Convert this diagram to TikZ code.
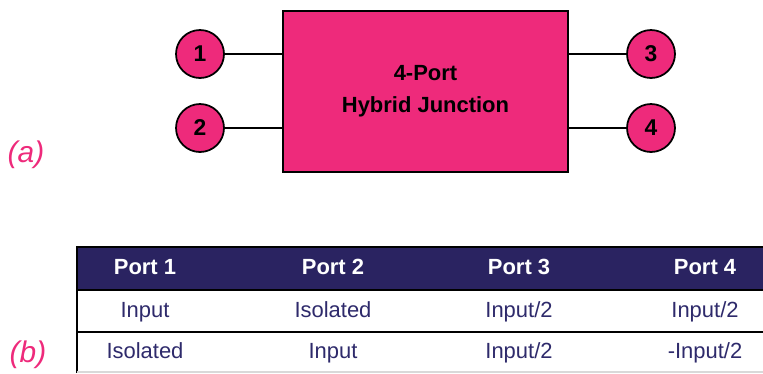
\documentclass[tikz,border=0pt]{standalone}
\usepackage{fontspec}
\setmainfont{Liberation Sans}
\usetikzlibrary{positioning}
\definecolor{hotpink}{HTML}{EE2A7B}
\definecolor{navyband}{HTML}{2A2361}
\definecolor{navytext}{HTML}{2E2A6B}

\begin{document}
\begin{tikzpicture}[x=0.02cm,y=-0.02cm,
		port/.style={circle,draw,line width=1pt,fill=hotpink,minimum size=0.96cm,inner sep=0pt,font=\bfseries\fontsize{13}{15}\selectfont},
		junction/.style={draw,line width=1.2pt,fill=hotpink,minimum width=5.7cm,minimum height=3.22cm,align=center,font=\bfseries\fontsize{12.5}{18}\selectfont},
		head/.style={text=white,text height=9pt,text depth=2pt,font=\bfseries\fontsize{12.5}{14}\selectfont},
		cell/.style={text=navytext,text height=9pt,text depth=2pt,font=\fontsize{12.5}{14}\selectfont},
		tag/.style={text=hotpink,font=\itshape\fontsize{17}{19}\selectfont},
		wire/.style={line width=0.9pt}]
		\useasboundingbox (0,0) rectangle (763,373);

		% (a) hybrid junction
		\node(hyb) [junction] at (425.5,91.5) {4-Port\\Hybrid Junction};
		\node(p1) [port] at (200,54) {1};
		\node(p2) [port] at (200,128) {2};
		\node(p3) [port] at (651,54) {3};
		\node(p4) [port] at (651,128) {4};

		\draw[wire] (p1) -- (p1 -| hyb.west);
		\draw[wire] (p2) -- (p2 -| hyb.west);
		\draw[wire] (p3) -- (p3 -| hyb.east);
		\draw[wire] (p4) -- (p4 -| hyb.east);

		\node(taga) [tag] at (26,155) {(a)};

		% (b) port table
		\fill[navyband] (77,247) rectangle (763,290);
		\draw[line width=0.6pt] (763,247) -- (77,247) -- (77,373);
		\draw[line width=1.3pt] (77,290) -- (763,290);
		\draw[line width=1.3pt] (77,332) -- (763,332);
		\draw[gray!30,line width=0.8pt] (77,372) -- (763,372);

		\node(h1) [head] at (145,268) {Port 1};
		\node(h2) [head] at (333,268) {Port 2};
		\node(h3) [head] at (519,268) {Port 3};
		\node(h4) [head] at (705,268) {Port 4};

		\node(a1) [cell] at (145,311) {Input};
		\node(a2) [cell] at (333,311) {Isolated};
		\node(a3) [cell] at (519,311) {Input/2};
		\node(a4) [cell] at (705,311) {Input/2};

		\node(b1) [cell] at (145,352) {Isolated};
		\node(b2) [cell] at (333,352) {Input};
		\node(b3) [cell] at (519,352) {Input/2};
		\node(b4) [cell] at (705,352) {-Input/2};

		\node(tagb) [tag] at (28,355) {(b)};
\end{tikzpicture}
\end{document}
